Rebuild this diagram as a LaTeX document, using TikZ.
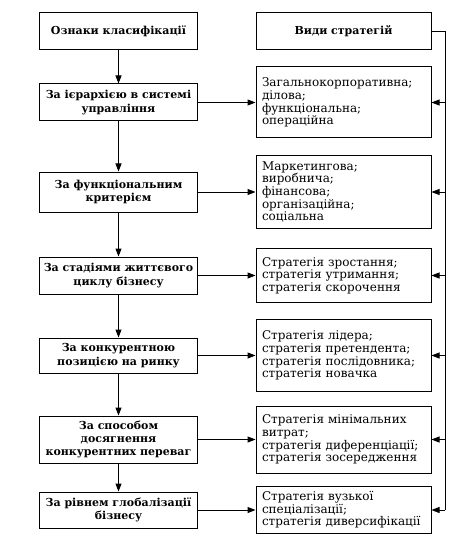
\documentclass[tikz,border=0pt]{standalone}
\usepackage{fontspec}
\setmainfont{DejaVu Serif}
\usetikzlibrary{arrows.meta}

\begin{document}
\begin{tikzpicture}[x=1pt, y=-1pt, line width=1pt, >={Triangle[length=8pt,width=6pt]},
    every node/.style={font=\fontsize{12}{12.6}\selectfont},
    crit/.style={draw, align=center, minimum width=158pt, inner xsep=1pt, inner ysep=2pt,
                 font=\bfseries\fontsize{11}{13.3}\selectfont},
    kind/.style={draw, align=left, text width=163pt, inner xsep=6pt, inner ysep=2pt}]
    \useasboundingbox (0,0) rectangle (468,548);

    % Left column - classification criteria
    \foreach \i/\y/\h/\txt in {0/31.5/37/{Ознаки класифікації},
                               1/102.5/37/{За ієрархією в системі\\управління},
                               2/192/40/{За функціональним\\критерієм},
                               3/275.5/37/{За стадіями життєвого\\циклу бізнесу},
                               4/355.5/35/{За конкурентною\\позицією на ринку},
                               5/439.5/47/{За способом\\досягнення\\конкурентних переваг},
                               6/510/36/{За рівнем глобалізації\\бізнесу}} {
        \node[crit, minimum height=\h pt] (l\i) at (118.5, \y) {\txt};
    }
    \foreach \i in {0,...,5} {
        \pgfmathtruncatemacro{\j}{\i+1}
        \draw[->] (l\i) -- (l\j);
    }

    % Right column - kinds of strategies
    \node[kind, align=center, font=\bfseries\fontsize{11}{13.3}\selectfont, minimum height=37pt] (r0) at (343.5, 31.5) {Види стратегій};
    \foreach \i/\h/\txt in {1/71/{Загальнокорпоративна;\\ділова;\\функціональна;\\операційна},
                            2/73/{Маркетингова;\\виробнича;\\фінансова;\\організаційна;\\соціальна},
                            3/54/{Стратегія зростання;\\стратегія утримання;\\стратегія скорочення},
                            4/72/{Стратегія лідера;\\стратегія претендента;\\стратегія послідовника;\\стратегія новачка},
                            5/67/{Стратегія мінімальних\\витрат;\\стратегія диференціації;\\стратегія зосередження},
                            6/47/{Стратегія вузької\\спеціалізації;\\стратегія диверсифікації}} {
        \node[kind, minimum height=\h pt] (r\i) at (343.5, 0 |- l\i) {\txt};
        \draw[->] (l\i) -- (r\i);
    }

    % Feedback line from the header
    \coordinate (bus) at (445, 31.5);
    \draw (r0) -- (bus) -- (bus |- r6);
    \foreach \i in {1,...,6} {
        \draw[->] (bus |- r\i) -- (r\i);
    }
\end{tikzpicture}
\end{document}
